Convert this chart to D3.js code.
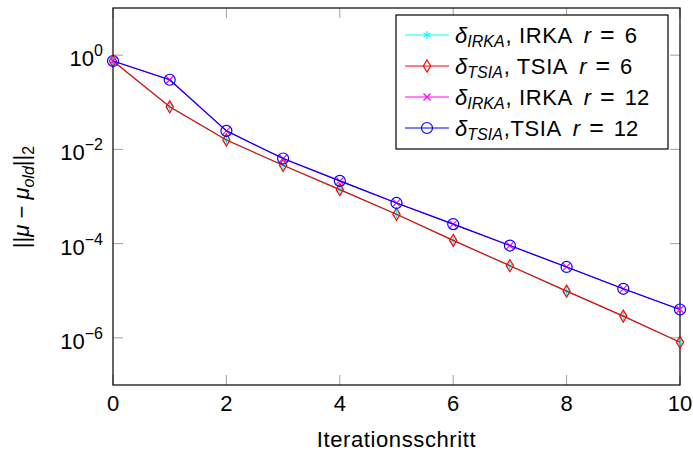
<!DOCTYPE html>
<html>
<head>
<meta charset="utf-8">
<script src="https://cdn.jsdelivr.net/npm/d3@7"></script>
<style>
  body { margin: 0; background: #fff; }
  svg { font-family: "Liberation Sans", Arial, sans-serif; }
</style>
</head>
<body>
<div id="chart"></div>
<script>
// Data
const iterations = [0, 1, 2, 3, 4, 5, 6, 7, 8, 9, 10];
const irka6  = [0.75, 0.080, 0.0158, 0.0046, 0.0014, 4.2e-4, 1.17e-4, 3.4e-5, 9.8e-6, 2.9e-6, 8.1e-7];
const tsia6  = [0.75, 0.080, 0.0158, 0.0046, 0.0014, 4.2e-4, 1.17e-4, 3.4e-5, 9.8e-6, 2.9e-6, 8.1e-7];
const irka12 = [0.75, 0.30, 0.0247, 0.0064, 0.00215, 7.3e-4, 2.6e-4, 9.1e-5, 3.2e-5, 1.1e-5, 4.0e-6];
const tsia12 = [0.75, 0.30, 0.0247, 0.0064, 0.00215, 7.3e-4, 2.6e-4, 9.1e-5, 3.2e-5, 1.1e-5, 4.0e-6];
const xTicks = [0, 2, 4, 6, 8, 10];
const yTickExps = [0, -2, -4, -6];

const series = [
    { values: irka6,  color: "#00ffff", mark: "star",    sub: "IRKA", method: ", IRKA", r: "6" },
    { values: tsia6,  color: "#ff0000", mark: "diamond", sub: "TSIA", method: ", TSIA", r: "6" },
    { values: irka12, color: "#ff00ff", mark: "cross",   sub: "IRKA", method: ", IRKA", r: "12" },
    { values: tsia12, color: "#0000ff", mark: "circle",  sub: "TSIA", method: ",TSIA",  r: "12" },
];

const width = 693, height = 451;
const margin = { top: 8, right: 13, bottom: 66, left: 113 };
const fontSize = 22, smallSize = 16;

const svg = d3.select("#chart").append("svg")
    .attr("width", width)
    .attr("height", height);

const x = d3.scaleLinear().domain([0, 10]).range([margin.left, width - margin.right]);
const y = d3.scaleLog().domain([1e-7, 1e1]).range([height - margin.bottom, margin.top]);

const tickLen = 10;
const tickColor = "#a0a0a0";

// ticks on all four sides, pointing inward
const ticks = svg.append("g").attr("stroke", tickColor).attr("stroke-width", 1);
xTicks.forEach(t => {
    ticks.append("line").attr("x1", x(t)).attr("x2", x(t))
        .attr("y1", y.range()[0]).attr("y2", y.range()[0] - tickLen);
    ticks.append("line").attr("x1", x(t)).attr("x2", x(t))
        .attr("y1", y.range()[1]).attr("y2", y.range()[1] + tickLen);
});
yTickExps.forEach(e => {
    const yy = y(Math.pow(10, e));
    ticks.append("line").attr("x1", x.range()[0]).attr("x2", x.range()[0] + tickLen)
        .attr("y1", yy).attr("y2", yy);
    ticks.append("line").attr("x1", x.range()[1]).attr("x2", x.range()[1] - tickLen)
        .attr("y1", yy).attr("y2", yy);
});

// tick labels
svg.append("g").selectAll("text")
    .data(xTicks)
    .join("text")
    .attr("x", d => x(d))
    .attr("y", y.range()[0] + 26)
    .attr("text-anchor", "middle")
    .attr("font-size", fontSize)
    .text(d => d);

const yLabels = svg.append("g").selectAll("text")
    .data(yTickExps)
    .join("text")
    .attr("x", x.range()[0] - 10)
    .attr("y", d => y(Math.pow(10, d)) + 11)
    .attr("text-anchor", "end")
    .attr("font-size", fontSize);
yLabels.append("tspan").text("10");
yLabels.append("tspan").attr("dy", -10).attr("font-size", smallSize)
    .text(d => d === 0 ? "0" : "\u2212" + (-d));

// axis titles
svg.append("text")
    .attr("x", (x.range()[0] + x.range()[1]) / 2)
    .attr("y", 447)
    .attr("text-anchor", "middle")
    .attr("font-size", fontSize)
    .attr("letter-spacing", 0.6)
    .text("Iterationsschritt");

const yTitle = svg.append("text")
    .attr("transform", "translate(29,197) rotate(-90)")
    .attr("text-anchor", "middle")
    .attr("font-size", fontSize);
yTitle.append("tspan").text("||");
yTitle.append("tspan").attr("font-style", "italic").text("\u03bc");
yTitle.append("tspan").text(" \u2212 ");
yTitle.append("tspan").attr("font-style", "italic").text("\u03bc");
yTitle.append("tspan").attr("font-style", "italic").attr("font-size", smallSize).attr("dy", 5).text("old");
yTitle.append("tspan").attr("dy", -5).text("||");
yTitle.append("tspan").attr("font-size", smallSize).attr("dy", 5).text("2");

// frame
svg.append("rect")
    .attr("x", x.range()[0]).attr("y", y.range()[1])
    .attr("width", x.range()[1] - x.range()[0])
    .attr("height", y.range()[0] - y.range()[1])
    .attr("fill", "none").attr("stroke", "#000").attr("stroke-width", 1.2);

// marker drawing
function drawMark(g, kind, color) {
    if (kind === "star") {
        const s = 4;
        [90, 30, -30].forEach(a => {
            const r = a * Math.PI / 180;
            g.append("line").attr("x1", -s * Math.cos(r)).attr("y1", -s * Math.sin(r))
                .attr("x2", s * Math.cos(r)).attr("y2", s * Math.sin(r))
                .attr("stroke", color).attr("stroke-width", 1.2);
        });
    } else if (kind === "diamond") {
        g.append("path").attr("d", "M0,-6L3.6,0L0,6L-3.6,0Z")
            .attr("fill", "none").attr("stroke", color).attr("stroke-width", 1.2);
    } else if (kind === "cross") {
        const s = 3.5;
        g.append("path").attr("d", `M${-s},${-s}L${s},${s}M${-s},${s}L${s},${-s}`)
            .attr("stroke", color).attr("stroke-width", 1.2);
    } else {
        g.append("circle").attr("r", 5.5)
            .attr("fill", "none").attr("stroke", color).attr("stroke-width", 1.2);
    }
}

const line = d3.line()
    .x((d, i) => x(iterations[i]))
    .y(d => y(d));

series.forEach(s => {
    const g = svg.append("g");
    g.append("path")
        .attr("d", line(s.values))
        .attr("fill", "none")
        .attr("stroke", s.color)
        .attr("stroke-width", 1.2);
    s.values.forEach((v, i) => {
        const m = g.append("g").attr("transform", `translate(${x(iterations[i])},${y(v)})`);
        drawMark(m, s.mark, s.color);
    });
});

// legend
const legend = svg.append("g");
legend.append("rect")
    .attr("x", 396).attr("y", 15)
    .attr("width", 272).attr("height", 134)
    .attr("fill", "#fff").attr("stroke", "#000").attr("stroke-width", 1.2);

series.forEach((s, i) => {
    const yy = 35 + i * 31;
    legend.append("line")
        .attr("x1", 405).attr("x2", 449)
        .attr("y1", yy).attr("y2", yy)
        .attr("stroke", s.color).attr("stroke-width", 1.2);
    const m = legend.append("g").attr("transform", `translate(427,${yy})`);
    drawMark(m, s.mark, s.color);
    const t = legend.append("text")
        .attr("x", 455).attr("y", yy + 8)
        .attr("font-size", fontSize);
    t.append("tspan").attr("font-style", "italic").text("\u03b4");
    t.append("tspan").attr("font-style", "italic").attr("font-size", smallSize).attr("dy", 4).text(s.sub);
    t.append("tspan").attr("dy", -4).attr("dx", 1).attr("letter-spacing", 0.6).text(s.method);
    t.append("tspan").attr("font-style", "italic").attr("dx", 11).text("r");
    t.append("tspan").attr("dx", 9).attr("font-size", 25).text("=");
    t.append("tspan").attr("dx", 10).text(s.r);
});
</script>
</body>
</html>
